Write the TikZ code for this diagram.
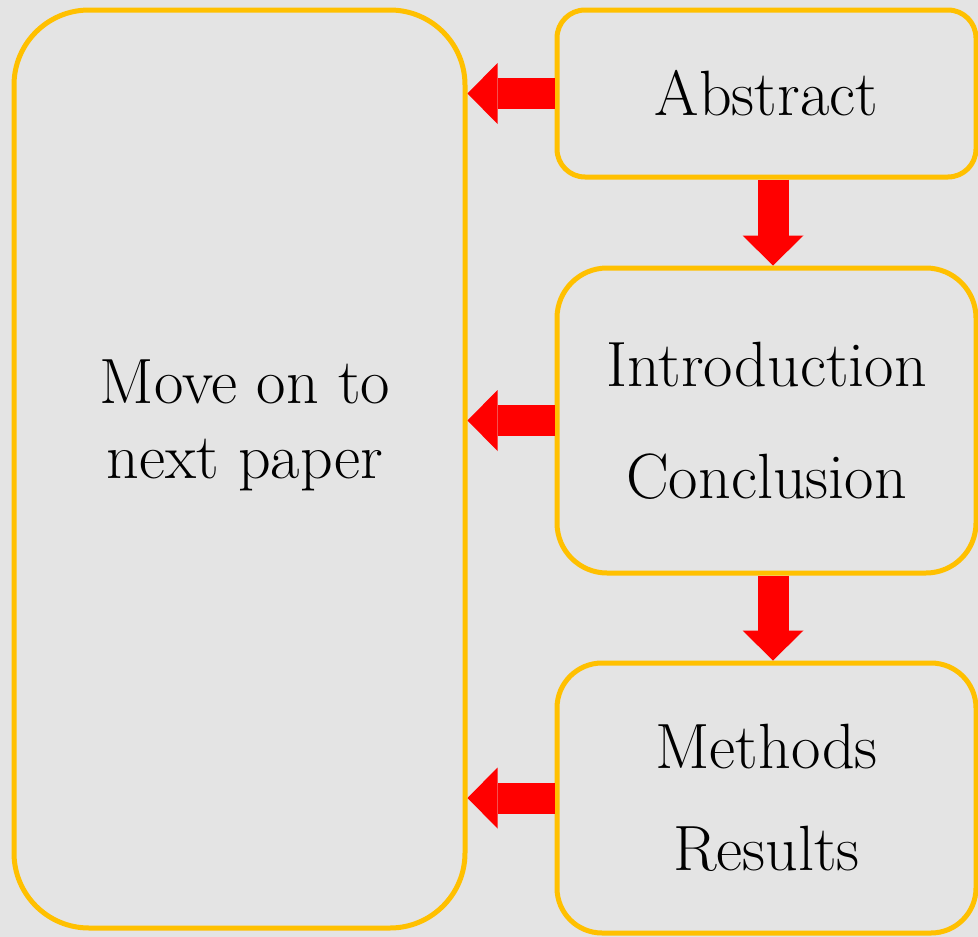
\documentclass[tikz,border=0pt]{standalone}
\usepackage{xcolor}
\usepackage{tikz}
\usetikzlibrary{arrows.meta}

\definecolor{boxorange}{RGB}{255,192,0}
\definecolor{arrowred}{RGB}{255,0,0}
\definecolor{paper}{RGB}{228,228,228}

\tikzset{
    stepbox/.style={draw=boxorange, line width=5pt, inner sep=0pt, align=center,
        font=\fontsize{64}{75}\selectfont},
    steptext/.style={inner sep=0pt, align=center, font=\fontsize{64}{75}\selectfont},
    bigarrow/.style={draw=arrowred, line width=31pt,
        -{Triangle[length=30pt 0 0, width=61pt 0 0, line width=0pt 0 0, color=arrowred]}}
}

\begin{document}
\begin{tikzpicture}[x=1pt, y=-1pt]
    \path[use as bounding box, fill=paper] (0,0) rectangle (978,937);

    \node[stepbox, rounded corners=75pt, minimum width=451pt, minimum height=918pt]
        (next) at (239.5,469) {};
    \node[steptext] (nexttext) at ([xshift=5.5pt, yshift=44pt]next.center)
        {Move on to\\next paper};

    \node[stepbox, rounded corners=28pt, minimum width=419pt, minimum height=167pt]
        (abstract) at (766.5,93.5) {Abstract};
    \node[stepbox, rounded corners=50pt, minimum width=419pt, minimum height=305pt]
        (intro) at (766.5,420.5) {Introduction\\[37pt]Conclusion};
    \node[stepbox, rounded corners=45pt, minimum width=419pt, minimum height=270pt]
        (methods) at (766.5,798) {Methods\\[27pt]Results};

    \draw[bigarrow] (abstract.west) -- (abstract.west -| next.east);
    \draw[bigarrow] (intro.west) -- (intro.west -| next.east);
    \draw[bigarrow] (methods.west) -- (methods.west -| next.east);

    \draw[bigarrow] ([xshift=6.5pt]abstract.south) -- ([xshift=6.5pt]intro.north);
    \draw[bigarrow] ([xshift=6.5pt]intro.south) -- ([xshift=6.5pt]methods.north);
\end{tikzpicture}
\end{document}
